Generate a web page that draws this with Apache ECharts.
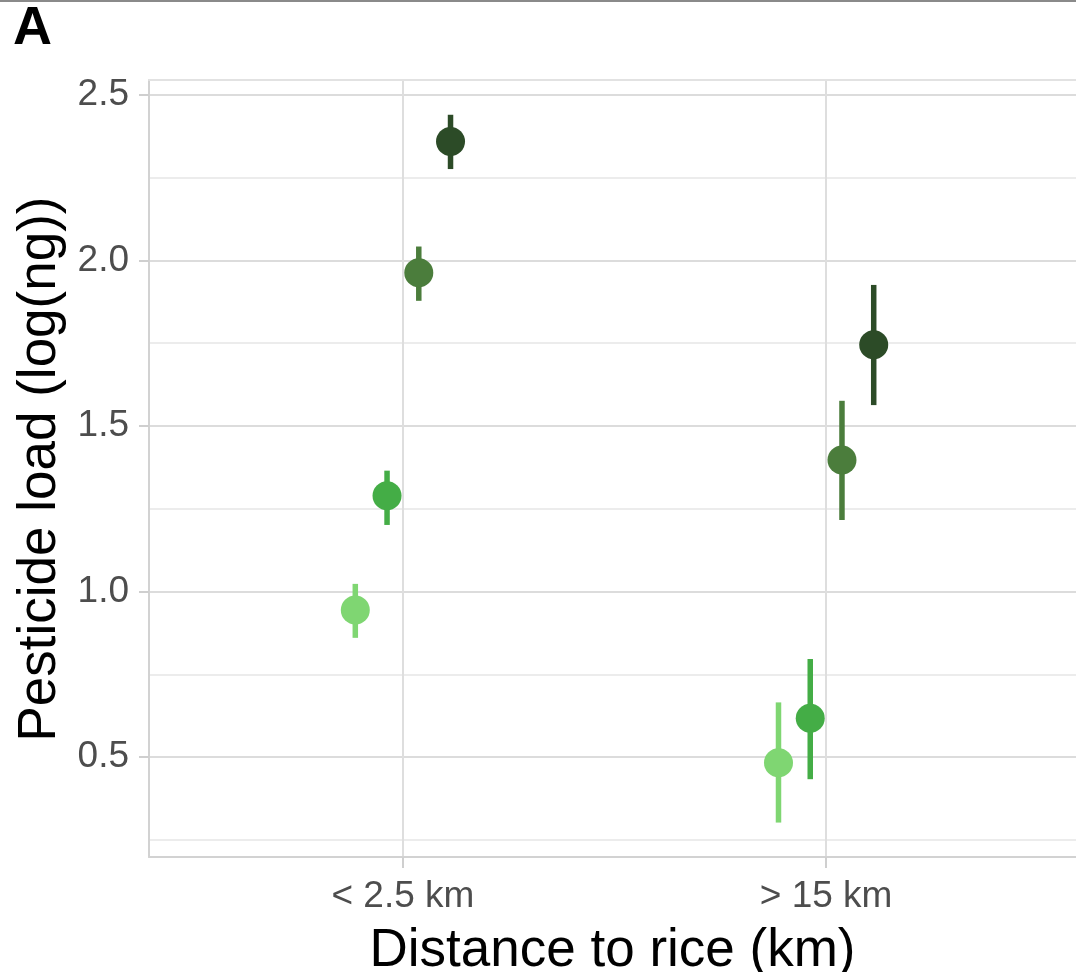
<!DOCTYPE html>
<html>
<head>
<meta charset="utf-8">
<script src="https://cdn.jsdelivr.net/npm/echarts@6/dist/echarts.min.js"></script>
<style>
html, body { margin: 0; padding: 0; background: #fff; }
#chart { width: 1076px; height: 972px; }
</style>
</head>
<body>
<div id="chart"></div>
<script>
// categories on the x axis
var categories = ['< 2.5 km', '> 15 km'];
// four dodged groups (light -> dark)
var groups = ['g1', 'g2', 'g3', 'g4'];
var groupColors = ['#7fd672', '#44ad46', '#4b7d3c', '#2c4b27'];
// means per group, one value per category
var means = [
  [0.944, 0.483],
  [1.289, 0.617],
  [1.963, 1.397],
  [2.359, 1.745]
];
var lower = [
  [0.860, 0.302],
  [1.201, 0.433],
  [1.878, 1.216],
  [2.276, 1.563]
];
var upper = [
  [1.023, 0.665],
  [1.365, 0.796],
  [2.042, 1.576],
  [2.440, 1.926]
];
var yMajor = [0.5, 1.0, 1.5, 2.0, 2.5];
var yAllLines = [0.25, 0.5, 0.75, 1.0, 1.25, 1.5, 1.75, 2.0, 2.25, 2.5];

var dodge = [-0.1125, -0.0375, 0.0375, 0.1125];
var font = "'Liberation Sans', Arial, sans-serif";
var borderCol = '#d2d2d2';

var chart = echarts.init(document.getElementById('chart'));

var series = [];
groups.forEach(function (g, gi) {
  var bars = categories.map(function (c, ci) {
    return [ci + 1 + dodge[gi], lower[gi][ci], upper[gi][ci]];
  });
  series.push({
    name: g + '_err',
    type: 'custom',
    z: 2,
    silent: true,
    data: bars,
    encode: { x: 0, y: [1, 2] },
    renderItem: function (params, api) {
      var x = api.value(0);
      var lo = api.coord([x, api.value(1)]);
      var hi = api.coord([x, api.value(2)]);
      return {
        type: 'line',
        shape: { x1: lo[0], y1: lo[1], x2: hi[0], y2: hi[1] },
        style: { stroke: groupColors[gi], lineWidth: 5.5 }
      };
    }
  });
});
groups.forEach(function (g, gi) {
  series.push({
    name: g,
    type: 'scatter',
    z: 3,
    symbol: 'circle',
    symbolSize: 29,
    itemStyle: { color: groupColors[gi], opacity: 1 },
    data: categories.map(function (c, ci) {
      return [ci + 1 + dodge[gi], means[gi][ci]];
    })
  });
});

chart.setOption({
  animation: false,
  backgroundColor: '#ffffff',
  graphic: [
    {
      type: 'line',
      shape: { x1: 0, y1: 1, x2: 1076, y2: 1 },
      style: { stroke: '#8a8a8a', lineWidth: 2 }
    },
    {
      type: 'text',
      x: 13,
      y: 2,
      style: { text: 'A', font: 'bold 54px ' + font, fill: '#000' }
    },
    {
      type: 'text',
      x: 40,
      y: 469,
      rotation: Math.PI / 2,
      style: {
        text: 'Pesticide load (log(ng))',
        font: '53px ' + font,
        fill: '#000',
        textAlign: 'center',
        textVerticalAlign: 'middle'
      }
    }
  ],
  grid: {
    left: 149,
    top: 80,
    width: 927,
    height: 777,
    show: false,
    outerBoundsMode: 'none',
    containLabel: false
  },
  xAxis: [
    {
      type: 'value',
      min: 0.4,
      max: 2.5905,
      name: 'Distance to rice (km)',
      nameLocation: 'middle',
      nameGap: 68,
      nameTextStyle: { fontFamily: font, fontSize: 53, color: '#000' },
      axisLine: { show: true, onZero: false, lineStyle: { color: borderCol, width: 2 } },
      axisTick: { show: true, length: 11, customValues: [1, 2], lineStyle: { color: '#cfcfcf', width: 2 } },
      axisLabel: {
        customValues: [1, 2],
        margin: 21,
        fontFamily: font,
        fontSize: 37,
        color: '#4d4d4d',
        formatter: function (v) { return categories[Math.round(v) - 1]; }
      },
      splitLine: { show: true, lineStyle: { color: '#dedede', width: 2 } }
    },
    {
      type: 'value',
      position: 'top',
      min: 0.4,
      max: 2.5905,
      axisLine: { show: true, onZero: false, lineStyle: { color: '#e2e2e2', width: 2 } },
      axisTick: { show: false },
      axisLabel: { show: false },
      splitLine: { show: false }
    }
  ],
  yAxis: [
    {
      type: 'value',
      min: 0.198,
      max: 2.545,
      axisLine: { show: true, onZero: false, lineStyle: { color: borderCol, width: 2 } },
      axisTick: { show: false, customValues: yAllLines },
      axisLabel: {
        customValues: yMajor,
        margin: 20,
        fontFamily: font,
        fontSize: 37,
        color: '#4d4d4d',
        formatter: function (v) { return v.toFixed(1); }
      },
      splitLine: { show: true, lineStyle: { color: ['#ececec', '#dcdcdc'], width: 2 } }
    },
    {
      type: 'value',
      min: 0.198,
      max: 2.545,
      position: 'left',
      axisLine: { show: false },
      axisTick: { show: true, length: 10, customValues: yMajor, lineStyle: { color: '#cfcfcf', width: 2 } },
      axisLabel: { show: false },
      splitLine: { show: false }
    }
  ],
  series: series
});
</script>
</body>
</html>
